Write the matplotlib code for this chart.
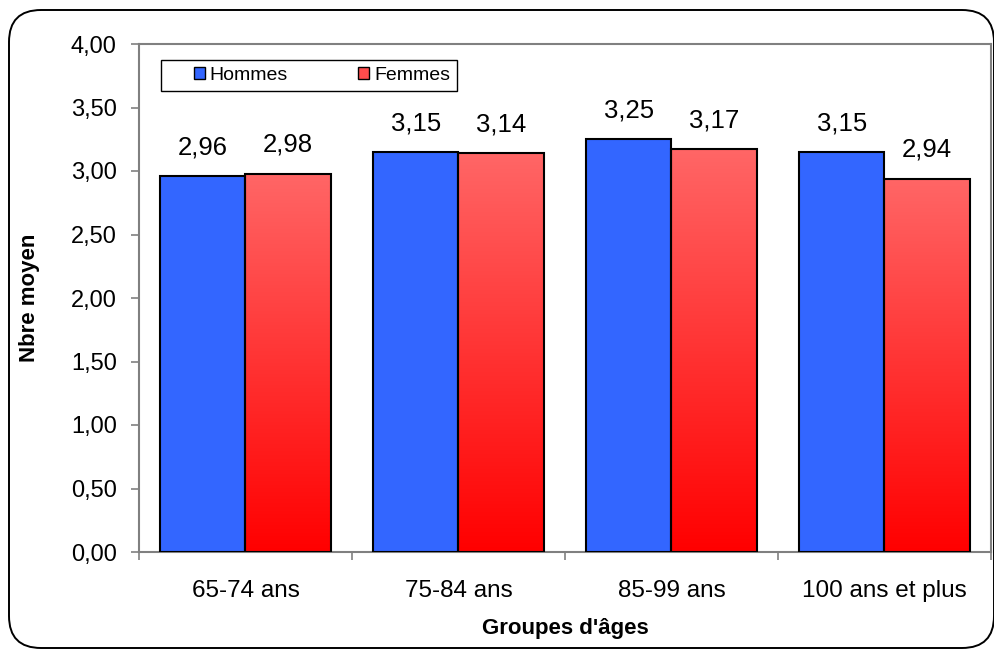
import matplotlib.pyplot as plt
import numpy as np
from matplotlib.patches import FancyBboxPatch, Rectangle
from matplotlib.colors import LinearSegmentedColormap
from matplotlib.legend_handler import HandlerPatch

categories = ["65-74 ans", "75-84 ans", "85-99 ans", "100 ans et plus"]
hommes = [2.96, 3.15, 3.25, 3.15]
femmes = [2.98, 3.14, 3.17, 2.94]
yticks = [0, 0.5, 1.0, 1.5, 2.0, 2.5, 3.0, 3.5, 4.0]

plt.rcParams['font.family'] = ['Liberation Sans', 'DejaVu Sans']

fig = plt.figure(figsize=(9.95, 6.49), dpi=100)
fig.patch.set_facecolor("white")

# rounded frame around the whole chart
frame = FancyBboxPatch((0.09, 0.01), 9.85, 6.38,
                       boxstyle="round,pad=0,rounding_size=0.32",
                       transform=fig.dpi_scale_trans, facecolor="none",
                       edgecolor="black", linewidth=1.4)
fig.patches.append(frame)

ax = fig.add_axes([139 / 995, 1 - 552 / 649, (991 - 139) / 995, (552 - 44) / 649])

x = np.arange(len(categories))
w = 0.4
blue = "#3366FF"
reds = LinearSegmentedColormap.from_list("reds", ["#FF0000", "#FF6666"])
grad = np.linspace(0, 1, 256).reshape(-1, 1)

ax.bar(x - w / 2, hommes, w, color=blue, edgecolor="black", linewidth=1.5,
       label="Hommes", zorder=3)
for xi, v in zip(x, femmes):
    ax.imshow(grad, cmap=reds, origin="lower", aspect="auto",
              extent=(xi, xi + w, 0, v), zorder=2)
ax.bar(x + w / 2, femmes, w, color="none", edgecolor="black", linewidth=1.5,
       zorder=3)

for xi, v in zip(x, hommes):
    ax.annotate(f"{v:.2f}".replace(".", ","), (xi - w / 2, v), xytext=(0, 12),
                textcoords="offset points", ha="center", va="bottom", fontsize=18.5)
for xi, v in zip(x, femmes):
    ax.annotate(f"{v:.2f}".replace(".", ","), (xi + w / 2, v), xytext=(0, 12),
                textcoords="offset points", ha="center", va="bottom", fontsize=18.5)

ax.set_xlim(-0.5, len(categories) - 0.5)
ax.set_ylim(0, 4)
ax.set_yticks(yticks)
ax.set_yticklabels([f"{t:.2f}".replace(".", ",") for t in yticks], fontsize=17)
ax.set_xticks(x)
ax.set_xticklabels(categories, fontsize=17.5)
ax.set_xticks(np.arange(len(categories) + 1) - 0.5, minor=True)
ax.tick_params(axis="x", which="major", length=0, pad=20)
ax.tick_params(axis="x", which="minor", length=6, color="#808080", width=1.2)
ax.tick_params(axis="y", length=6, color="#808080", width=1.2, pad=10)
for s in ax.spines.values():
    s.set_color("#808080")
    s.set_linewidth(1.5)

ax.set_ylabel("Nbre moyen", fontsize=16, fontweight="bold", labelpad=22)
ax.set_xlabel("Groupes d'âges", fontsize=16, fontweight="bold", labelpad=12)


# small square sitting at the right end of the handle box
def small_square(legend, orig_handle, xdescent, ydescent, width, height, fontsize):
    s = 8.0
    return Rectangle((width - s - xdescent, (height - s) / 2 - ydescent), s, s)


hb = Rectangle((0, 0), 1, 1, facecolor=blue, edgecolor="black", linewidth=1)
hr = Rectangle((0, 0), 1, 1, facecolor="#FF4C4C", edgecolor="black", linewidth=1)
leg = ax.legend([hb, hr], ["Hommes", "Femmes"], ncol=2, fontsize=14,
                loc="upper left", mode="expand",
                bbox_to_anchor=(161 / 995, (649 - 94) / 649, 296 / 995, 34 / 649),
                bbox_transform=fig.transFigure, fancybox=False, framealpha=1,
                edgecolor="black", handlelength=1.9, handleheight=0.6,
                handletextpad=0.25, columnspacing=1.8, borderpad=0.35,
                borderaxespad=0,
                handler_map={Rectangle: HandlerPatch(patch_func=small_square)})
leg.get_frame().set_linewidth(1.0)
leg.set_zorder(5)

fig.savefig("out.png", dpi=100)
